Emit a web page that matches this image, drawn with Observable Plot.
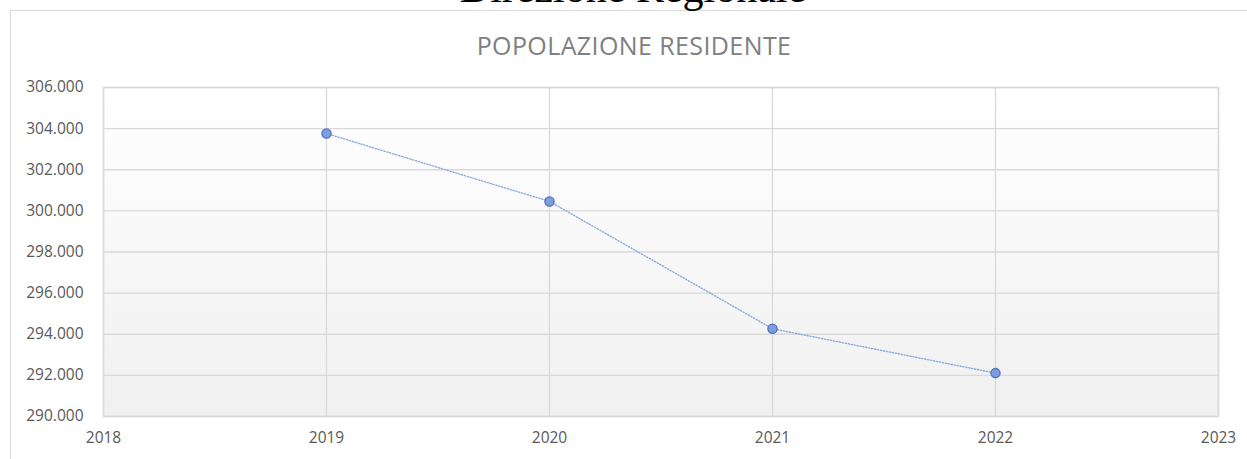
<!DOCTYPE html>
<html>
<head>
<meta charset="utf-8">
<script src="https://cdn.jsdelivr.net/npm/d3@7"></script>
<script src="https://cdn.jsdelivr.net/npm/@observablehq/plot@0.6"></script>
<style>
  html, body { margin: 0; padding: 0; background: #fff; overflow: hidden; }
  #wrap { position: relative; width: 1247px; height: 459px; overflow: hidden; }
  #frame { position: absolute; left: 10px; top: 10px; width: 1250px; height: 470px;
           border: 1.5px solid #d9d9d9; box-sizing: border-box; }
  #doc-title { position: absolute; left: 0; width: 1266px; top: -33px; text-align: center;
               font-family: "Liberation Serif", "DejaVu Serif", serif; font-size: 42px;
               line-height: 1; color: #000; white-space: nowrap; }
  #chart-title { position: absolute; left: 0; width: 1268px; top: 30px; text-align: center;
                 font-family: "Open Sans", sans-serif; font-size: 25px; letter-spacing: 0.4px;
                 line-height: 1.2; color: #808080; white-space: nowrap; }
  #plot { position: absolute; left: 0; top: 0; }
</style>
</head>
<body>
<div id="wrap">
  <div id="frame"></div>
  <div id="doc-title">Direzione Regionale</div>
  <div id="chart-title">POPOLAZIONE RESIDENTE</div>
  <div id="plot"></div>
</div>
<script>
const years = [2019, 2020, 2021, 2022];
const population = [303760, 300460, 294270, 292110];
const xTicks = [2018, 2019, 2020, 2021, 2022, 2023];
const yTicks = [290000, 292000, 294000, 296000, 298000, 300000, 302000, 304000, 306000];

const data = years.map((y, i) => ({year: y, value: population[i]}));
const itFmt = d3.formatLocale({decimal: ",", thousands: ".", grouping: [3], currency: ["€", ""]}).format(",d");

const chart = Plot.plot({
  width: 1247,
  height: 459,
  marginLeft: 103,
  marginRight: 29,
  marginTop: 87,
  marginBottom: 43,
  style: {background: "transparent", fontFamily: "'Open Sans', sans-serif", fontSize: "15px", color: "#595959"},
  x: {domain: [2018, 2023], ticks: xTicks, tickFormat: d => String(d), tickSize: 0, tickPadding: 14, label: null},
  y: {domain: [290000, 306000], ticks: yTicks, tickFormat: itFmt, tickSize: 0, tickPadding: 20, label: null},
  marks: [
    Plot.frame({fill: "url(#plotbg)", stroke: "none"}),
    Plot.gridX(xTicks, {stroke: "#d9d9d9", strokeOpacity: 1, strokeWidth: 1.3}),
    Plot.gridY(yTicks, {stroke: "#d9d9d9", strokeOpacity: 1, strokeWidth: 1.3}),
    Plot.frame({stroke: "#d9d9d9", strokeWidth: 1.5}),
    Plot.axisX(xTicks, {tickSize: 0, tickPadding: 15, tickFormat: d => String(d), fill: "#595959", fontSize: 15.5}),
    Plot.axisY(yTicks, {tickSize: 0, tickPadding: 20, tickFormat: itFmt, fill: "#595959", fontSize: 15.5}),
    Plot.line(data, {x: "year", y: "value", stroke: "#8faadc", strokeWidth: 1.4, strokeDasharray: "1.2,1.8"}),
    Plot.dot(data, {x: "year", y: "value", r: 4.6, fill: "#7f9cdb", stroke: "#4a72c4", strokeWidth: 1.3})
  ]
});

const defs = d3.select(chart).insert("defs", ":first-child");
const grad = defs.append("linearGradient").attr("id", "plotbg")
  .attr("x1", 0).attr("y1", 0).attr("x2", 0).attr("y2", 1);
grad.append("stop").attr("offset", "0%").attr("stop-color", "#ffffff");
grad.append("stop").attr("offset", "100%").attr("stop-color", "#f0f0f0");

document.getElementById("plot").appendChild(chart);
</script>
</body>
</html>
